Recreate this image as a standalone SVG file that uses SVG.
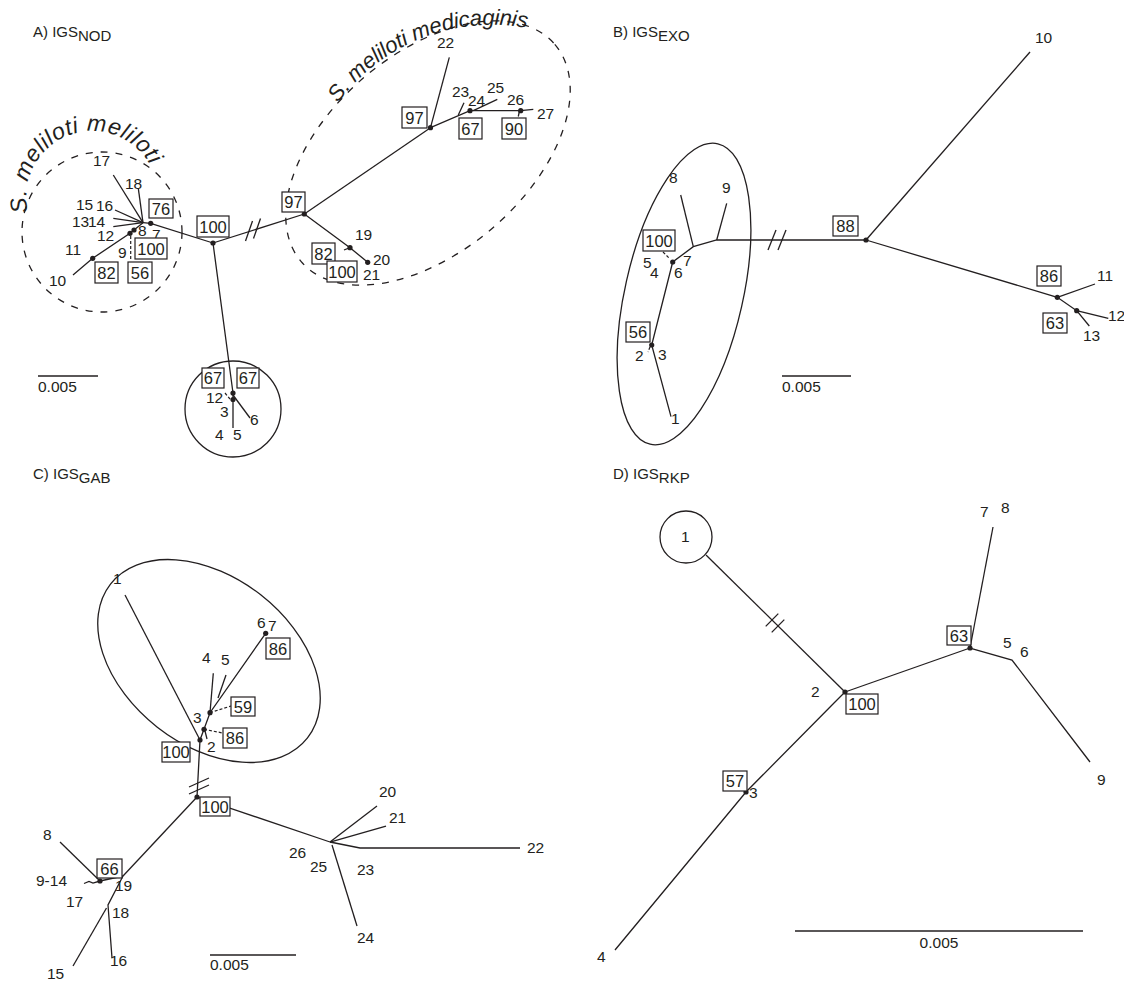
<svg xmlns="http://www.w3.org/2000/svg" width="1124" height="983" viewBox="0 0 1124 983">
<defs>
<style>
.t{font-family:"Liberation Sans",Arial,sans-serif;font-size:15.5px;fill:#231f20}
.ti{font-family:"Liberation Sans",Arial,sans-serif;font-size:15px;fill:#231f20}
.bt{font-family:"Liberation Sans",Arial,sans-serif;font-size:16.5px;fill:#231f20;text-anchor:middle}
.it{font-family:"Liberation Sans",Arial,sans-serif;font-style:italic;fill:#231f20}
.l{stroke:#231f20;stroke-width:1.3;fill:none}
.dl{stroke:#231f20;stroke-width:1.2;fill:none;stroke-dasharray:3 2}
.dc{stroke:#231f20;stroke-width:1.3;fill:none;stroke-dasharray:7 8}
.bx{fill:#fff;stroke:#231f20;stroke-width:1.2}
.dot{fill:#231f20}
</style>
<path id="arcA1" d="M 28 212 A 66 66 0 0 1 150 165"/>
<path id="arcA2" d="M 338 103 A 191 191 0 0 1 527 28"/>
</defs>
<rect width="1124" height="983" fill="#fff"/>

<!-- ===== Panel A ===== -->
<text class="ti" x="33" y="37">A) IGS<tspan dy="3.5">NOD</tspan></text>
<g id="A-outlines">
<circle class="dc" cx="102" cy="232" r="80"/>
<ellipse class="dc" cx="428" cy="153" rx="167" ry="99" transform="rotate(-40.6 428 153)"/>
<circle class="l" cx="233" cy="409" r="48"/>
<text class="it" font-size="23"><textPath href="#arcA1" textLength="189" lengthAdjust="spacing">S. meliloti meliloti</textPath></text>
<text class="it" font-size="22"><textPath href="#arcA2" textLength="214" lengthAdjust="spacing">S. meliloti medicaginis</textPath></text>
</g>
<g id="A-connectors">
<polyline class="l" points="213,243 150.7,223.3 143,222.7"/>
<line class="l" x1="143" y1="222.7" x2="113.3" y2="175"/>
<line class="l" x1="143" y1="222.7" x2="138.3" y2="188.3"/>
<line class="l" x1="143" y1="222.7" x2="115" y2="210"/>
<line class="l" x1="143" y1="222.7" x2="113.3" y2="218.3"/>
<line class="l" x1="143" y1="222.7" x2="113.3" y2="226.7"/>
<polyline class="l" points="143,222.7 134,230 130,233.3 92.7,258.3 73,275"/>
<line class="dl" x1="130.7" y1="236" x2="130.7" y2="261"/>
<line class="l" x1="213" y1="243" x2="304.3" y2="214"/>
<line class="l" x1="245.5" y1="241" x2="252.5" y2="221"/>
<line class="l" x1="253.5" y1="238.5" x2="260.5" y2="218.5"/>
<polyline class="l" points="213,243 233,393 233,428"/>
<line class="l" x1="233" y1="395" x2="250" y2="418"/>
<line class="dl" x1="225" y1="393" x2="230" y2="399"/>
<polyline class="l" points="304.3,214 350,247.7 367.7,262.3"/>
<line class="l" x1="344" y1="250" x2="350" y2="247.7"/>
<line class="l" x1="304.3" y1="214" x2="430.5" y2="127.7"/>
<line class="l" x1="430.5" y1="127.7" x2="449.3" y2="57.3"/>
<polyline class="l" points="430.5,127.7 470,110.7 520.7,110.7 533.3,109.3"/>
<line class="l" x1="458.3" y1="115" x2="464" y2="102.7"/>
<line class="l" x1="473.3" y1="110.7" x2="497.3" y2="99.3"/>
<line class="l" x1="519.5" y1="110.7" x2="518.3" y2="116.5"/>
</g>
<g id="A-dots">
<circle class="dot" cx="213" cy="243" r="2.6"/>
<circle class="dot" cx="150.7" cy="223.3" r="2.6"/>
<circle class="dot" cx="134" cy="230" r="2.6"/>
<circle class="dot" cx="130" cy="233.3" r="2.6"/>
<circle class="dot" cx="92.7" cy="258.3" r="2.6"/>
<circle class="dot" cx="233" cy="393" r="2.6"/>
<circle class="dot" cx="233" cy="399.5" r="2.6"/>
<circle class="dot" cx="304.3" cy="214" r="2.6"/>
<circle class="dot" cx="350" cy="247.7" r="2.6"/>
<circle class="dot" cx="367.7" cy="262.3" r="2.6"/>
<circle class="dot" cx="430.5" cy="127.7" r="2.6"/>
<circle class="dot" cx="470" cy="110.7" r="2.6"/>
<circle class="dot" cx="520.7" cy="110.7" r="2.6"/>
</g>
<g id="A-labels">
<text class="t" x="93" y="166">17</text>
<text class="t" x="125" y="189">18</text>
<text class="t" x="76" y="210">15</text>
<text class="t" x="96" y="211">16</text>
<text class="t" x="72" y="227">13</text>
<text class="t" x="88" y="227">14</text>
<text class="t" x="97" y="241">12</text>
<text class="t" x="65" y="255">11</text>
<text class="t" x="49" y="286">10</text>
<text class="t" x="118" y="258">9</text>
<text class="t" x="138" y="236">8</text>
<text class="t" x="152" y="240">7</text>
<text class="t" x="206" y="403">12</text>
<text class="t" x="220" y="417">3</text>
<text class="t" x="215" y="440">4</text>
<text class="t" x="233" y="440">5</text>
<text class="t" x="250" y="425">6</text>
<text class="t" x="355" y="240">19</text>
<text class="t" x="373" y="265">20</text>
<text class="t" x="363" y="280">21</text>
<text class="t" x="437" y="48">22</text>
<text class="t" x="452" y="97">23</text>
<text class="t" x="468" y="106">24</text>
<text class="t" x="487" y="93">25</text>
<text class="t" x="507" y="105">26</text>
<text class="t" x="537" y="119">27</text>
</g>
<g id="A-b76"><rect class="bx" x="149" y="199" width="24" height="19"/><text class="bt" x="161" y="214.5">76</text></g>
<g id="A-b100a"><rect class="bx" x="197" y="216" width="32" height="21"/><text class="bt" x="213" y="232.5">100</text></g>
<g id="A-b100b"><rect class="bx" x="135" y="238" width="32" height="21"/><text class="bt" x="151" y="254.5">100</text></g>
<g id="A-b82a"><rect class="bx" x="95" y="262" width="23" height="21"/><text class="bt" x="106.5" y="278.5">82</text></g>
<g id="A-b56"><rect class="bx" x="128" y="262" width="24" height="21"/><text class="bt" x="140" y="278.5">56</text></g>
<g id="A-b67a"><rect class="bx" x="202" y="368" width="22" height="20"/><text class="bt" x="213" y="384">67</text></g>
<g id="A-b67b"><rect class="bx" x="237" y="368" width="22" height="20"/><text class="bt" x="248" y="384">67</text></g>
<g id="A-b97a"><rect class="bx" x="282" y="192" width="23" height="20"/><text class="bt" x="293.5" y="208">97</text></g>
<g id="A-b82b"><rect class="bx" x="312" y="243" width="23" height="21"/><text class="bt" x="323.5" y="259.5">82</text></g>
<g id="A-b100c"><rect class="bx" x="327" y="261" width="30" height="21"/><text class="bt" x="342" y="277.5">100</text></g>
<g id="A-b97b"><rect class="bx" x="402" y="107" width="25" height="21"/><text class="bt" x="414.5" y="123.5">97</text></g>
<g id="A-b67c"><rect class="bx" x="459" y="118" width="23" height="21"/><text class="bt" x="470.5" y="134.5">67</text></g>
<g id="A-b90"><rect class="bx" x="502" y="118" width="24" height="21"/><text class="bt" x="514" y="134.5">90</text></g>
<g id="A-scale"><line class="l" x1="38" y1="376" x2="98" y2="376"/><text class="t" x="38" y="392">0.005</text></g>

<!-- ===== Panel B ===== -->
<text class="ti" x="613" y="37">B) IGS<tspan dy="3.5">EXO</tspan></text>
<g id="B-outline"><ellipse class="l" cx="684" cy="294" rx="59" ry="154" transform="rotate(12.7 684 294)"/></g>
<g id="B-connectors">
<polyline class="l" points="671,416.7 651.7,345 672.7,262 693.3,246.7 716.7,240 866,240"/>
<line class="l" x1="693.3" y1="246.7" x2="680.7" y2="195"/>
<line class="l" x1="716.7" y1="240" x2="726.7" y2="203.3"/>
<line class="dl" x1="663" y1="252" x2="670" y2="259"/>
<line class="dl" x1="650" y1="347" x2="648" y2="352"/>
<line class="l" x1="768" y1="250" x2="776" y2="230"/>
<line class="l" x1="778" y1="250" x2="786" y2="230"/>
<line class="l" x1="866" y1="240" x2="1030" y2="52"/>
<polyline class="l" points="866,240 1057.3,297.3 1076.7,310.7 1108.3,318.3"/>
<line class="l" x1="1057.3" y1="297.3" x2="1095" y2="284"/>
<line class="l" x1="1076.7" y1="310.7" x2="1089.3" y2="326"/>
</g>
<g id="B-dots">
<circle class="dot" cx="672.7" cy="262" r="2.6"/>
<circle class="dot" cx="651.7" cy="345" r="2.6"/>
<circle class="dot" cx="866" cy="240" r="2.6"/>
<circle class="dot" cx="1057.3" cy="297.3" r="2.6"/>
<circle class="dot" cx="1076.7" cy="310.7" r="2.6"/>
</g>
<g id="B-labels">
<text class="t" x="669" y="183">8</text>
<text class="t" x="722" y="193">9</text>
<text class="t" x="643" y="268">5</text>
<text class="t" x="650" y="278">4</text>
<text class="t" x="674" y="278">6</text>
<text class="t" x="683" y="266">7</text>
<text class="t" x="635" y="361">2</text>
<text class="t" x="658" y="360">3</text>
<text class="t" x="671" y="424">1</text>
<text class="t" x="1035" y="43">10</text>
<text class="t" x="1097" y="281">11</text>
<text class="t" x="1108" y="321">12</text>
<text class="t" x="1083" y="341">13</text>
</g>
<g id="B-b100"><rect class="bx" x="643" y="230" width="32" height="21"/><text class="bt" x="659" y="246.5">100</text></g>
<g id="B-b56"><rect class="bx" x="626" y="322" width="24" height="20"/><text class="bt" x="638" y="338">56</text></g>
<g id="B-b88"><rect class="bx" x="833" y="216" width="25" height="20"/><text class="bt" x="845.5" y="232">88</text></g>
<g id="B-b86"><rect class="bx" x="1037" y="266" width="24" height="20"/><text class="bt" x="1049" y="282">86</text></g>
<g id="B-b63"><rect class="bx" x="1043" y="313" width="24" height="20"/><text class="bt" x="1055" y="329">63</text></g>
<g id="B-scale"><line class="l" x1="782" y1="376" x2="851" y2="376"/><text class="t" x="782" y="392">0.005</text></g>

<!-- ===== Panel C ===== -->
<text class="ti" x="33" y="479">C) IGS<tspan dy="3.5">GAB</tspan></text>
<g id="C-outline"><ellipse class="l" cx="209" cy="661" rx="125" ry="84" transform="rotate(38 209 661)"/></g>
<g id="C-connectors">
<line class="l" x1="125" y1="595" x2="200" y2="740"/>
<polyline class="l" points="197,797 200,740 204,729.3 210,712.7 265.7,633.3"/>
<line class="l" x1="210" y1="712.7" x2="213.3" y2="673.3"/>
<line class="l" x1="218" y1="698" x2="226" y2="675"/>
<line class="dl" x1="210" y1="712.7" x2="231" y2="706"/>
<line class="dl" x1="204" y1="729.3" x2="222.7" y2="733"/>
<line class="l" x1="205" y1="731" x2="207" y2="739"/>
<line class="l" x1="189" y1="787" x2="209" y2="778"/>
<line class="l" x1="189" y1="794" x2="209" y2="785"/>
<line class="l" x1="197" y1="797" x2="123" y2="876"/>
<polyline class="l" points="123,876 100,881 93,883 89,881.5 84,883.5"/>
<line class="l" x1="100" y1="881" x2="60" y2="842"/>
<polyline class="l" points="123,876 108,905 112,958"/>
<line class="l" x1="106.5" y1="908" x2="73" y2="966"/>
<line class="l" x1="197" y1="797" x2="330" y2="842"/>
<line class="l" x1="330" y1="842" x2="377" y2="806"/>
<line class="l" x1="330" y1="842" x2="386" y2="826"/>
<polyline class="l" points="330,842 360,848 520,848"/>
<line class="l" x1="332" y1="845" x2="357" y2="926"/>
</g>
<g id="C-dots">
<circle class="dot" cx="200" cy="740" r="2.6"/>
<circle class="dot" cx="204" cy="729.3" r="2.6"/>
<circle class="dot" cx="210" cy="712.7" r="2.6"/>
<circle class="dot" cx="265.7" cy="633.3" r="2.6"/>
<circle class="dot" cx="197" cy="797" r="2.6"/>
<circle class="dot" cx="100" cy="881" r="2.6"/>
</g>
<g id="C-labels">
<text class="t" x="113" y="584">1</text>
<text class="t" x="257" y="628">6</text>
<text class="t" x="268" y="631">7</text>
<text class="t" x="202" y="663">4</text>
<text class="t" x="221" y="665">5</text>
<text class="t" x="193" y="723">3</text>
<text class="t" x="207" y="752">2</text>
<text class="t" x="43" y="840">8</text>
<text class="t" x="36" y="886">9-14</text>
<text class="t" x="115" y="891">19</text>
<text class="t" x="66" y="907">17</text>
<text class="t" x="112" y="918">18</text>
<text class="t" x="110" y="966">16</text>
<text class="t" x="47" y="979">15</text>
<text class="t" x="379" y="797">20</text>
<text class="t" x="389" y="823">21</text>
<text class="t" x="527" y="853">22</text>
<text class="t" x="357" y="875">23</text>
<text class="t" x="289" y="858">26</text>
<text class="t" x="310" y="872">25</text>
<text class="t" x="357" y="943">24</text>
</g>
<g id="C-b100a"><rect class="bx" x="162" y="742" width="28" height="20"/><text class="bt" x="176" y="758">100</text></g>
<g id="C-b59"><rect class="bx" x="231" y="697" width="24" height="19"/><text class="bt" x="243" y="712.5">59</text></g>
<g id="C-b86a"><rect class="bx" x="223" y="728" width="24" height="20"/><text class="bt" x="235" y="744">86</text></g>
<g id="C-b86b"><rect class="bx" x="266" y="638" width="24" height="21"/><text class="bt" x="278" y="654.5">86</text></g>
<g id="C-b100b"><rect class="bx" x="200" y="797" width="30" height="19"/><text class="bt" x="215" y="812.5">100</text></g>
<g id="C-b66"><rect class="bx" x="97" y="859" width="25" height="19"/><text class="bt" x="109.5" y="874.5">66</text></g>
<g id="C-scale"><line class="l" x1="210" y1="955" x2="296" y2="955"/><text class="t" x="210" y="970">0.005</text></g>

<!-- ===== Panel D ===== -->
<text class="ti" x="613" y="479">D) IGS<tspan dy="3.5">RKP</tspan></text>
<g id="D-outline"><circle class="l" cx="686" cy="537" r="26"/></g>
<g id="D-connectors">
<line class="l" x1="706" y1="555" x2="845" y2="692"/>
<line class="l" x1="765.7" y1="626.4" x2="778.3" y2="613.6"/>
<line class="l" x1="771.7" y1="632.4" x2="784.3" y2="619.6"/>
<line class="l" x1="845" y1="692" x2="970" y2="648"/>
<line class="l" x1="970" y1="648" x2="993" y2="527"/>
<polyline class="l" points="970,648 1012,660 1090,762"/>
<polyline class="l" points="845,692 835,702 746,792 615,950"/>
</g>
<g id="D-dots">
<circle class="dot" cx="845" cy="692" r="2.6"/>
<circle class="dot" cx="970" cy="648" r="2.6"/>
<circle class="dot" cx="746" cy="792" r="2.6"/>
</g>
<g id="D-labels">
<text class="t" x="681" y="542">1</text>
<text class="t" x="980" y="517">7</text>
<text class="t" x="1001" y="513">8</text>
<text class="t" x="1003" y="648">5</text>
<text class="t" x="1020" y="657">6</text>
<text class="t" x="1097" y="785">9</text>
<text class="t" x="811" y="697">2</text>
<text class="t" x="749" y="798">3</text>
<text class="t" x="597" y="962">4</text>
</g>
<g id="D-b100"><rect class="bx" x="846" y="694" width="32" height="20"/><text class="bt" x="862" y="710">100</text></g>
<g id="D-b63"><rect class="bx" x="947" y="626" width="24" height="19"/><text class="bt" x="959" y="641.5">63</text></g>
<g id="D-b57"><rect class="bx" x="723" y="771" width="24" height="20"/><text class="bt" x="735" y="787">57</text></g>
<g id="D-scale"><line class="l" x1="795" y1="931" x2="1083" y2="931"/><text class="t" x="939" y="948" text-anchor="middle">0.005</text></g>
</svg>
